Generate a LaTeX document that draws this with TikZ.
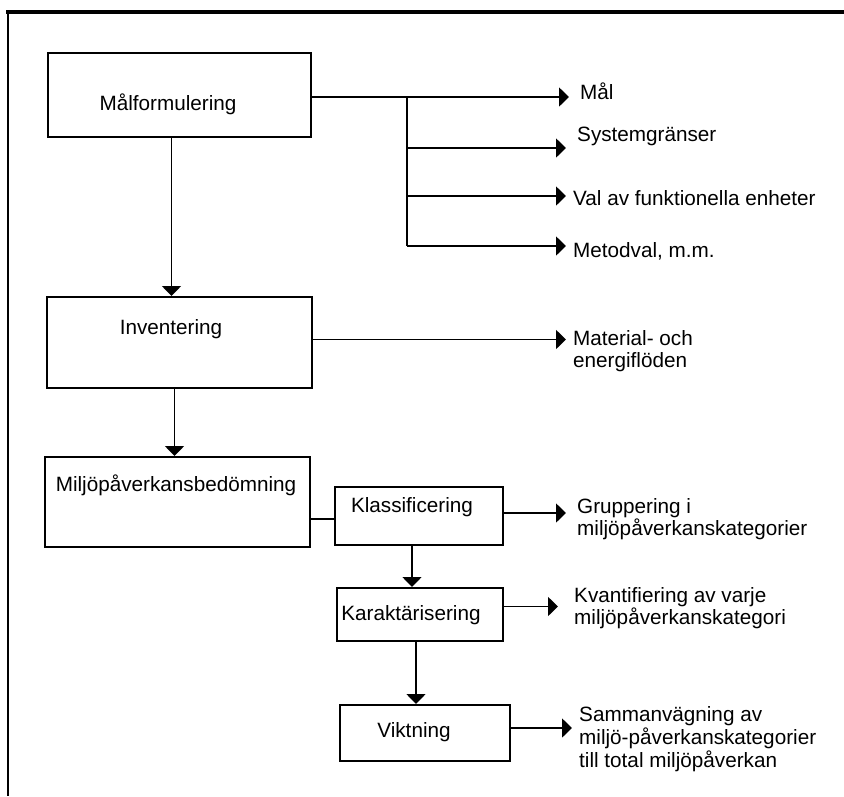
\documentclass[tikz,border=0pt]{standalone}
\usepackage{fontspec}
\setmainfont{Liberation Sans}
\usetikzlibrary{arrows.meta,positioning,calc}
\tikzset{
  stagebox/.style={draw,line width=2pt,inner sep=0pt},
  boxtext/.style={inner sep=0pt,font=\fontsize{20.7}{22.7}\selectfont},
  outtext/.style={anchor=west,inner sep=0pt,align=left,
                  font=\fontsize{20.7}{22.7}\selectfont},
  flowarr/.style={-{Triangle[length=10pt,width=19pt]},line width=1.7pt},
  linkline/.style={line width=1.7pt}
}
\begin{document}
\begin{tikzpicture}[x=1pt,y=1pt]
  \useasboundingbox (0,0) rectangle (844,-796);
  % frame
  \draw[line width=4pt] (6,-12) -- (844,-12);
  \draw[line width=2.5pt] (8,-10) -- (8,-796);

  % main stages
  \node[stagebox,minimum width=263pt,minimum height=84pt] (malf) at (179.5,-95) {};
  \node[stagebox,minimum width=265pt,minimum height=91pt] (inv) at (179.5,-342.5) {};
  \node[stagebox,minimum width=265pt,minimum height=90pt] (miljo) at (177.5,-502) {};
  \node[boxtext] (malfT) at (168,-104) {Målformulering};
  \node[boxtext] (invT) at (171,-329) {Inventering};
  \node[boxtext] (miljoT) at (176,-485) {Miljöpåverkansbedömning};

  % sub stages
  \node[stagebox,minimum width=168pt,minimum height=58pt] (klass) at (419,-516) {};
  \node[stagebox,minimum width=166pt,minimum height=53pt] (karakt) at (420,-614.5) {};
  \node[stagebox,minimum width=170pt,minimum height=56pt] (vikt) at (425,-733) {};
  \node[boxtext] (klassT) at (412,-507) {Klassificering};
  \node[boxtext] (karaktT) at (411,-615) {Karaktärisering};
  \node[boxtext] (viktT) at (414,-732) {Viktning};

  % outputs
  \node[outtext] (malT) at (580,-91) {Mål};
  \node[outtext] (sysT) at (577,-136) {Systemgränser};
  \node[outtext] (valT) at (573,-198) {Val av funktionella enheter};
  \node[outtext] (metT) at (573,-251) {Metodval, m.m.};
  \node[outtext] (matT) at (573,-351) {Material- och\\energiflöden};
  \node[outtext] (grpT) at (577,-519) {Gruppering i\\miljöpåverkanskategorier};
  \node[outtext] (kvaT) at (574,-608) {Kvantifiering av varje\\miljöpåverkanskategori};
  \node[outtext] (samT) at (579,-739) {Sammanvägning av\\miljö-påverkanskategorier\\till total miljöpåverkan};

  \coordinate (tipx) at (566,0);
  \coordinate (tipk) at (558,0);
  \coordinate (tipv) at (572,0);
  \coordinate (bus) at (407,-97);
  \coordinate (brSys) at (407,-148);
  \coordinate (brVal) at (407,-196);
  \coordinate (brMet) at (407,-246);

  % goal branches
  \draw[flowarr] ([yshift=-2pt]malf.east) -- ([yshift=-2pt,xshift=3pt]malf.east -| tipx);
  \draw[linkline] (bus) -- (brMet);
  \draw[flowarr] (brSys) -- (brSys -| tipx);
  \draw[flowarr] (brVal) -- (brVal -| tipx);
  \draw[flowarr] (brMet) -- (brMet -| tipx);

  % main chain
  \draw[flowarr] ([xshift=-8pt]malf.south) -- ([xshift=-8pt]malf.south |- inv.north);
  \draw[flowarr] ([xshift=-5pt]inv.south) -- ([xshift=-5pt]inv.south |- miljo.north);
  \draw[flowarr] ([yshift=3pt]inv.east) -- ([yshift=3pt]inv.east -| tipx);

  % assessment chain
  \draw[linkline] ([yshift=-17pt]miljo.east) -- ([yshift=-17pt]miljo.east -| klass.west);
  \draw[flowarr] ([yshift=3pt]klass.east) -- ([yshift=3pt]klass.east -| tipx);
  \draw[flowarr] ([xshift=-7pt]klass.south) -- ([xshift=-7pt]klass.south |- karakt.north);
  \draw[flowarr] ([yshift=8pt]karakt.east) -- ([yshift=8pt]karakt.east -| tipk);
  \draw[flowarr] ([xshift=-4pt]karakt.south) -- ([xshift=-4pt]karakt.south |- vikt.north);
  \draw[flowarr] ([yshift=5pt]vikt.east) -- ([yshift=5pt]vikt.east -| tipv);
\end{tikzpicture}
\end{document}
